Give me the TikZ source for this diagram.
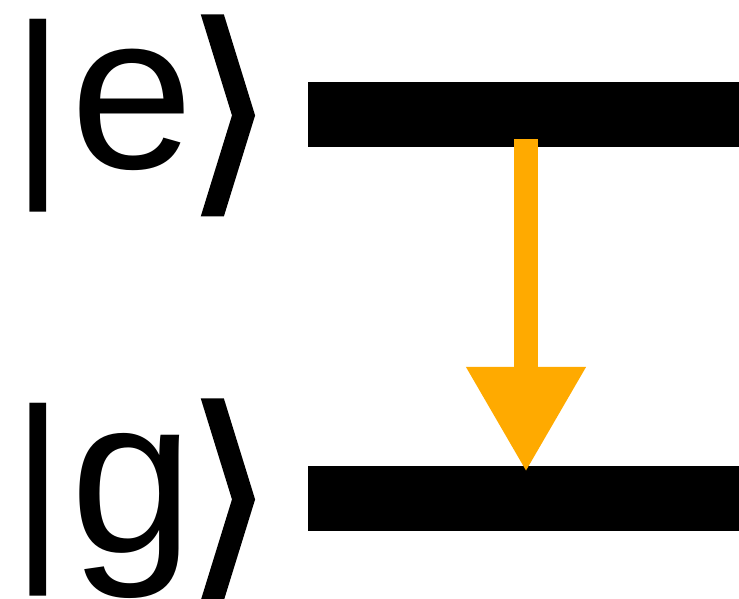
\documentclass[tikz,border=0pt]{standalone}
\usepackage{fontspec}
\setmainfont{Liberation Sans}
\newfontfamily\brafont[FakeBold=2]{DejaVu Sans}
\usetikzlibrary{arrows.meta}
\definecolor{emitorange}{RGB}{255,170,0}
\newcommand{\ketbar}{{\fontsize{206}{206}\selectfont|}\kern5pt}
\newcommand{\ketclose}{\kern-8pt{\brafont\raisebox{-17pt}{⟩}}}
\tikzset{
  level/.style={fill=black, draw=none, minimum width=431pt, minimum height=65pt, inner sep=0pt, outer sep=0pt},
  ketlabel/.style={inner sep=0pt, outer sep=0pt, anchor=base west, text height=151pt, text depth=43pt,
    font=\fontsize{222}{222}\selectfont},
  decay/.style={draw=emitorange, line width=24.3pt,
    -{Triangle[width=120.3pt 0 0, length=103.7pt 0 0, line width=0pt]}}
}
\begin{document}
\begin{tikzpicture}[x=1pt,y=-1pt]
\useasboundingbox (0,0) rectangle (739,598);
\node[level] (E) at (523.5,114.7) {};
\node[level] (G) at (523.5,498.3) {};
\node[ketlabel] (ke) at (12,168) {\ketbar e\ketclose};
\node[ketlabel] (kg) at (12,552) {\ketbar g\ketclose};
\draw[decay] ([xshift=2.5pt,yshift=7.8pt]E.south) -- ([xshift=2.5pt,yshift=-4.7pt]G.north);
\end{tikzpicture}
\end{document}
